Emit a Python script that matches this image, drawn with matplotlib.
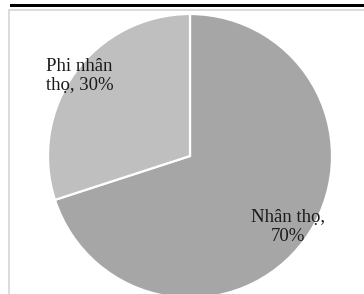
import matplotlib
matplotlib.use("Agg")
import matplotlib.pyplot as plt
from matplotlib.patches import Rectangle
import numpy as np

categories = ["Nhân thọ", "Phi nhân thọ"]
shares = [70, 30]
label_texts = ["Nhân thọ,\n70%", "Phi nhân\nthọ, 30%"]
colors = ["#a6a6a6", "#bfbfbf"]

W, H = 364, 294
fig = plt.figure(figsize=(W / 100, H / 100), dpi=100)
ax = fig.add_axes([0, 0, 1, 1])
ax.set_xlim(0, W)
ax.set_ylim(0, H)
ax.set_aspect("equal")
ax.axis("off")

# top black rule and light frame
ax.add_patch(Rectangle((10, H - 6.5), W, 3, color="black", lw=0))
ax.plot([9, 9, W + 5], [-5, H - 9.5, H - 9.5], color="#d9d9d9", lw=1.3, solid_joinstyle="miter")

cx, cy, r = 190, H - 156, 142
wedges, texts = ax.pie(shares, labels=label_texts, colors=colors, startangle=90,
                       counterclock=False, center=(cx, cy), radius=r,
                       labeldistance=0.85,
                       wedgeprops=dict(edgecolor="white", linewidth=1.6),
                       textprops=dict(family="Liberation Serif", fontsize=13.5, color="#1a1a1a"))
ax.set_xlim(0, W)
ax.set_ylim(0, H)
dists = [0.85, 0.96]
for t, w, d in zip(texts, wedges, dists):
    ang = np.deg2rad((w.theta1 + w.theta2) / 2)
    t.set_position((cx + d * r * np.cos(ang), cy + d * r * np.sin(ang)))
    t.set_ha("center")
    t.set_va("center")
    t.set_multialignment("center")
    t.set_linespacing(1.2)

fig.savefig("out.png", dpi=100)
